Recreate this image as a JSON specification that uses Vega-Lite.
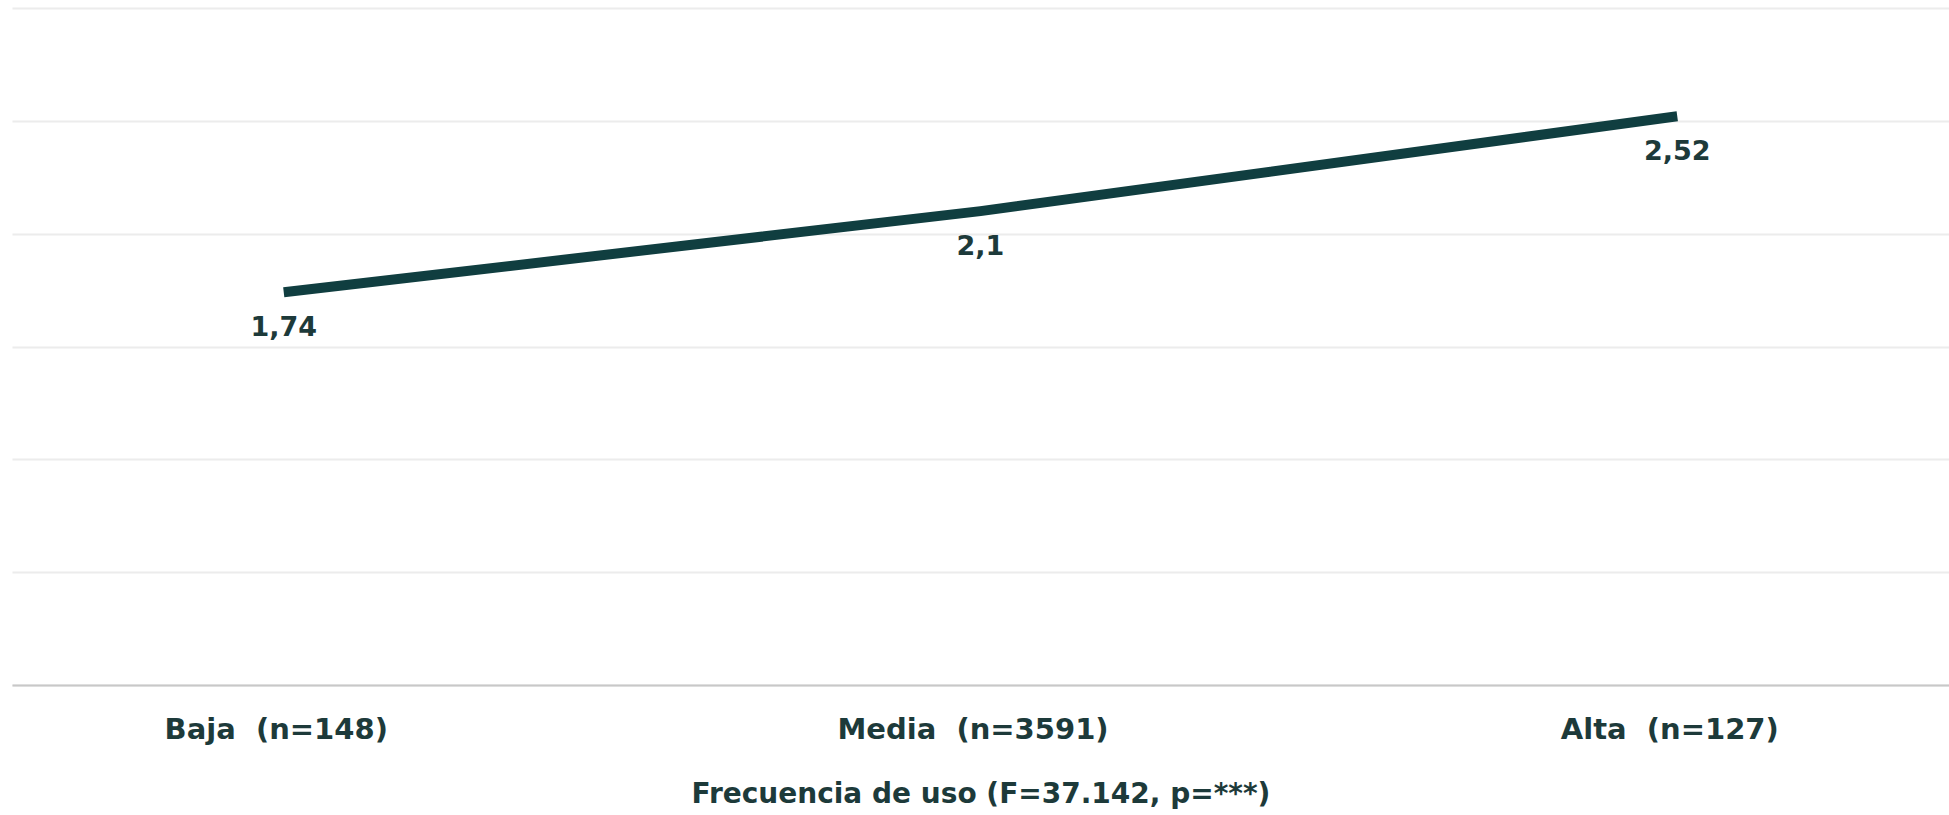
{
  "$schema": "https://vega.github.io/schema/vega-lite/v6.json",
  "autosize": "none",
  "width": 1937,
  "height": 677,
  "padding": {"left": 12, "top": 8, "right": 0, "bottom": 130},
  "background": "#ffffff",
  "config": {"view": {"stroke": null}, "font": "DejaVu Sans"},
  "data": {"values": [
    {"cat": "Baja\u00a0\u00a0(n=148)", "value": 1.74, "label": "1,74"},
    {"cat": "Media\u00a0\u00a0(n=3591)", "value": 2.1, "label": "2,1"},
    {"cat": "Alta\u00a0\u00a0(n=127)", "value": 2.52, "label": "2,52"}
  ]},
  "encoding": {
    "x": {"field": "cat", "type": "nominal", "sort": null,
      "scale": {"type": "point", "padding": 0.39},
      "axis": {"title": "Frecuencia de uso (F=37.142, p=***)", "labelAngle": 0, "labelLimit": 0,
        "labelFont": "DejaVu Sans", "labelFontSize": 29, "labelFontWeight": "bold", "labelColor": "#1d3a3a",
        "labelPadding": 30, "labelOffset": -8, "ticks": false, "domainColor": "#c8c8c8", "domainWidth": 2,
        "titleFont": "DejaVu Sans", "titleFontSize": 28, "titleFontWeight": "bold", "titleColor": "#1d3a3a",
        "titlePadding": 36, "titleLimit": 0}},
    "y": {"field": "value", "type": "quantitative",
      "scale": {"domain": [0, 3], "nice": false},
      "axis": {"title": null, "labels": false, "ticks": false, "domain": false,
        "values": [0, 0.5, 1, 1.5, 2, 2.5, 3], "gridColor": "#ececec", "gridWidth": 2}}
  },
  "layer": [
    {"mark": {"type": "line", "color": "#103e40", "strokeWidth": 10}},
    {"mark": {"type": "text", "dy": 36, "fontSize": 27, "fontWeight": "bold", "font": "DejaVu Sans", "color": "#1d3a3a", "baseline": "middle"},
      "encoding": {"text": {"field": "label"}}}
  ]
}
